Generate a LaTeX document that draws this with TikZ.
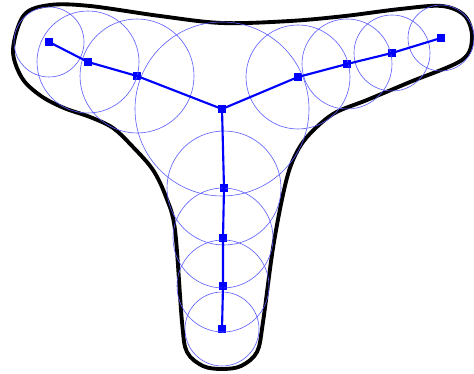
\documentclass[tikz,border=0pt]{standalone}
\usetikzlibrary{positioning}
\definecolor{cskel}{HTML}{0000FF}
\definecolor{cball}{HTML}{5A5AFF}

\begin{document}
\begin{tikzpicture}[x=0.75pt, y=-0.75pt,
  pt/.style={rectangle, fill=cskel, inner sep=0pt, minimum size=6pt},
  bone/.style={cskel, line width=1.6pt},
  ball/.style={cball, line width=0.45pt},
  rim/.style={black, line width=2.9pt, line join=round}
]
  \useasboundingbox (0,0) rectangle (474,374);

  % outline of the shape
  \draw[rim] plot[smooth cycle, tension=0.55] coordinates {
    (13,50) (24,15) (50,5) (90,6) (160,16) (222,23) (290,21) (345,16)
    (400,9) (442,6) (465,16) (472,38) (462,60) (410,82) (367,100)
    (333,114) (307,137) (293,160) (284,190) (273,248) (263,322) (257,352)
    (241,366) (222,369) (203,366) (187,352) (182,322) (175,230) (166,197)
    (153,170) (133,147) (113,128) (90,117) (64,108) (41,96) (22,78)};

  % skeleton points
  \node[pt] (j) at (222,109) {};
  \node[pt] (l1) at (49,42) {};
  \node[pt] (l2) at (88,62) {};
  \node[pt] (l3) at (137,76) {};
  \node[pt] (r1) at (298,77) {};
  \node[pt] (r2) at (347,64) {};
  \node[pt] (r3) at (392,53) {};
  \node[pt] (r4) at (441,38) {};
  \node[pt] (d1) at (224,188) {};
  \node[pt] (d2) at (223,238) {};
  \node[pt] (d3) at (223,286) {};
  \node[pt] (d4) at (222,329) {};

  % inscribed circles
  \foreach \c/\r in {j/87, l1/35, l2/51, l3/57, r1/52, r2/45, r3/38, r4/33,
                     d1/57, d2/50, d3/46, d4/37}
    \draw[ball] (\c.center) circle[radius=\r];

  % branches
  \draw[bone] (l1.center) -- (l2.center) -- (l3.center) -- (j.center);
  \draw[bone] (j.center) -- (r1.center) -- (r2.center) -- (r3.center) -- (r4.center);
  \draw[bone] (j.center) -- (d1.center) -- (d2.center) -- (d3.center) -- (d4.center);
\end{tikzpicture}
\end{document}
